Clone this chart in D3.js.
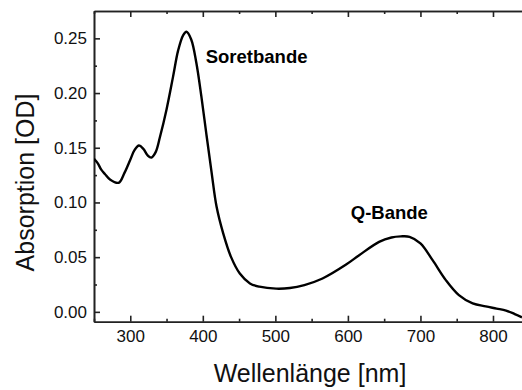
<!DOCTYPE html>
<html>
<head>
<meta charset="utf-8">
<script src="https://cdn.jsdelivr.net/npm/d3@7"></script>
<style>
  body { margin: 0; background: #fff; }
  svg { display: block; font-family: "Liberation Sans", Arial, sans-serif; }
  .axis path, .axis line { stroke: #222; stroke-width: 1.6; }
  .axis text { font-size: 17px; fill: #111; }
</style>
</head>
<body>
<svg></svg>
<script>
// spectrum
var wavelength = [250, 255, 260, 265, 272, 284, 292, 300, 306, 312, 318, 324, 329, 335, 341, 350, 359,
                  366, 373, 377.5, 384, 391, 398, 405, 412, 419, 428, 439, 451, 465, 478, 501, 520,
                  540, 565, 597, 616, 643, 660, 673, 685, 700, 717, 735, 753, 772, 790, 805, 818, 830, 840];
var absorbance = [0.140, 0.136, 0.130, 0.126, 0.121, 0.118, 0.127, 0.139, 0.148, 0.152, 0.149, 0.143, 0.141, 0.146, 0.160, 0.185, 0.215,
                  0.239, 0.253, 0.256, 0.249, 0.228, 0.197, 0.162, 0.128, 0.096, 0.072, 0.050, 0.035, 0.026, 0.023, 0.0212, 0.0218,
                  0.0245, 0.0305, 0.043, 0.052, 0.064, 0.068, 0.069, 0.0686, 0.0626, 0.047, 0.029, 0.0153, 0.0077, 0.005, 0.003, 0.0012, -0.002, -0.005];
var xTicks = [300, 400, 500, 600, 700, 800];
var xMinor = [250, 350, 450, 550, 650, 750];
var yTicks = [0.00, 0.05, 0.10, 0.15, 0.20, 0.25];
var yMinor = [0.025, 0.075, 0.125, 0.175, 0.225];
var labels = [{text: "Soretbande", x: 404, y: 0.2275}, {text: "Q-Bande", x: 604, y: 0.0848}];

var width = 522, height = 390;
var margin = {top: 11, right: 0, bottom: 68.3, left: 94};

var svg = d3.select("svg").attr("width", width).attr("height", height);

var x = d3.scaleLinear().domain([250, 840]).range([margin.left, width - margin.right]);
var y = d3.scaleLinear().domain([-0.009, 0.275]).range([height - margin.bottom, margin.top]);

svg.append("defs").append("clipPath").attr("id", "plot")
    .append("rect")
    .attr("x", margin.left).attr("y", margin.top)
    .attr("width", width - margin.left - margin.right)
    .attr("height", height - margin.top - margin.bottom);

// bottom axis
svg.append("g").attr("class", "axis")
    .attr("transform", "translate(0," + (height - margin.bottom) + ")")
    .call(d3.axisBottom(x).tickValues(xTicks).tickSize(-6).tickSizeOuter(0).tickPadding(8).tickFormat(d3.format("d")));
svg.append("g").attr("class", "axis")
    .attr("transform", "translate(0," + (height - margin.bottom) + ")")
    .call(d3.axisBottom(x).tickValues(xMinor).tickSize(-3).tickSizeOuter(0).tickFormat(""));

// top axis
svg.append("g").attr("class", "axis")
    .attr("transform", "translate(0," + margin.top + ")")
    .call(d3.axisTop(x).tickValues(xTicks).tickSize(-6).tickSizeOuter(0).tickFormat(""));
svg.append("g").attr("class", "axis")
    .attr("transform", "translate(0," + margin.top + ")")
    .call(d3.axisTop(x).tickValues(xMinor).tickSize(-3).tickSizeOuter(0).tickFormat(""));

// left axis
svg.append("g").attr("class", "axis")
    .attr("transform", "translate(" + margin.left + ",0)")
    .call(d3.axisLeft(y).tickValues(yTicks).tickSize(-6).tickSizeOuter(0).tickPadding(7).tickFormat(d3.format(".2f")));
svg.append("g").attr("class", "axis")
    .attr("transform", "translate(" + margin.left + ",0)")
    .call(d3.axisLeft(y).tickValues(yMinor).tickSize(-3).tickSizeOuter(0).tickFormat(""));

var line = d3.line()
    .x(function (d, i) { return x(wavelength[i]); })
    .y(function (d) { return y(d); })
    .curve(d3.curveCatmullRom.alpha(0.5));

svg.append("path")
    .datum(absorbance)
    .attr("clip-path", "url(#plot)")
    .attr("fill", "none")
    .attr("stroke", "#000")
    .attr("stroke-width", 2.4)
    .attr("stroke-linejoin", "round")
    .attr("d", line);

svg.selectAll(".band")
    .data(labels)
    .enter().append("text")
    .attr("class", "band")
    .attr("x", function (d) { return x(d.x); })
    .attr("y", function (d) { return y(d.y); })
    .attr("font-size", "18.5px")
    .attr("font-weight", "bold")
    .text(function (d) { return d.text; });

svg.append("text")
    .attr("x", 310)
    .attr("y", 382)
    .attr("text-anchor", "middle")
    .attr("font-size", "25px")
    .attr("fill", "#111")
    .text("Wellenlänge [nm]");

svg.append("text")
    .attr("transform", "translate(34,182.5) rotate(-90)")
    .attr("text-anchor", "middle")
    .attr("font-size", "25px")
    .attr("fill", "#111")
    .text("Absorption [OD]");
</script>
</body>
</html>
